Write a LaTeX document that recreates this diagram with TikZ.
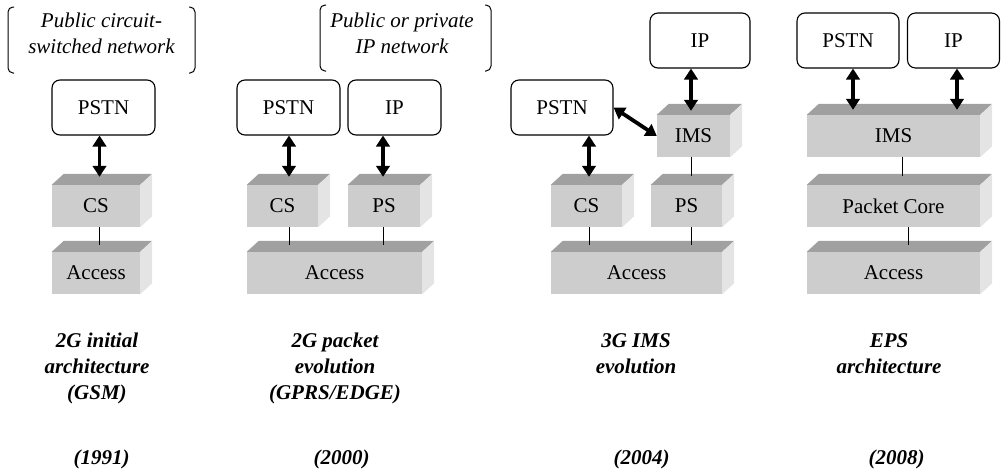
\documentclass[tikz,border=0pt]{standalone}
\usepackage{fontspec}
\setmainfont{Liberation Serif}
\usetikzlibrary{arrows.meta,calc}
\definecolor{topc}{HTML}{A0A0A0}
\definecolor{frontc}{HTML}{CDCDCD}
\definecolor{sidec}{HTML}{E4E4E4}
\tikzset{
  net/.style={draw=black, line width=1.1pt, rounded corners=8pt, fill=white, inner sep=0pt, minimum height=55pt, font=\fontsize{21}{26}\selectfont},
  blk/.style={fill=frontc, inner sep=0pt, minimum height=42pt, font=\fontsize{21}{26}\selectfont},
  dbl/.style={line width=3.8pt, {Triangle[length=11pt,width=13.5pt]}-{Triangle[length=11pt,width=13.5pt]}},
  link/.style={line width=1pt},
  brk/.style={line width=1pt, rounded corners=5pt},
  lbl/.style={font=\fontsize{21}{26}\selectfont\bfseries\itshape, align=center, anchor=base, inner sep=0pt},
  cloud/.style={font=\fontsize{21}{26}\selectfont\itshape, align=center, anchor=base, inner sep=0pt},
}
\newcommand\Blk[5]{% name, cx, cy, width, text
  \node[blk, minimum width=#4pt] (#1) at (#2,#3) {#5};
  \fill[topc] (#1.north west) -- ++(12,-11) -- ($(#1.north east)+(12,-11)$) -- (#1.north east) -- cycle;
  \fill[sidec] (#1.north east) -- ++(12,-11) -- ($(#1.south east)+(12,-11)$) -- (#1.south east) -- cycle;
}
\begin{document}
\begin{tikzpicture}[x=1pt,y=-1pt]
\useasboundingbox (0,0) rectangle (1001,474);
% ---------- column 1 ----------
\draw[brk] (14,7) -- (8,7) -- (8,73) -- (14,73);
\draw[brk] (189,7) -- (195,7) -- (195,73) -- (189,73);
\node[cloud] (t1) at (101.5,53) {Public circuit-\\switched network};
\node[net, minimum width=103pt] (pstn1) at (103.5,107.5) {PSTN};
\Blk{cs1}{96}{206}{88}{CS}
\Blk{acc1}{96}{273}{88}{Access}
\draw[dbl, shorten >=8pt] ([xshift=-4pt]pstn1.south) -- ([xshift=-4pt]pstn1.south |- cs1.north);
\draw[link] ([xshift=3pt]cs1.south) -- ([xshift=3pt,yshift=7pt]acc1.north);
\node[lbl] (l1) at (97,399) {2G initial\\architecture\\(GSM)};
\node[lbl] (y1) at (101.5,464) {(1991)};
% ---------- column 2 ----------
\draw[brk] (326,5) -- (320,5) -- (320,71) -- (326,71);
\draw[brk] (485,5) -- (491,5) -- (491,71) -- (485,71);
\node[cloud] (t2) at (402,53) {Public or private\\IP network};
\node[net, minimum width=103pt] (pstn2) at (288.5,107.5) {PSTN};
\node[net, minimum width=93pt] (ip2) at (394.5,107.5) {IP};
\Blk{cs2}{282.5}{206}{71}{CS}
\Blk{ps2}{384}{206}{72}{PS}
\Blk{acc2}{334.5}{273}{175}{Access}
\draw[dbl, shorten >=8pt] ([xshift=0.5pt]pstn2.south) -- ([xshift=0.5pt]pstn2.south |- cs2.north);
\draw[dbl, shorten >=8pt] ([xshift=-11.5pt]ip2.south) -- ([xshift=-11.5pt]ip2.south |- ps2.north);
\draw[link] ([xshift=6.5pt]cs2.south) -- ([xshift=6.5pt,yshift=7pt]cs2.south |- acc2.north);
\draw[link] ([xshift=-1pt]ps2.south) -- ([xshift=-1pt,yshift=7pt]ps2.south |- acc2.north);
\node[lbl] (l2) at (335,399) {2G packet\\evolution\\(GPRS/EDGE)};
\node[lbl] (y2) at (341.5,464) {(2000)};
% ---------- column 3 ----------
\node[net, minimum width=100pt] (ip3) at (700,40.5) {IP};
\node[net, minimum width=102pt] (pstn3) at (562,107.5) {PSTN};
\Blk{ims3}{693.5}{136}{73}{IMS}
\Blk{cs3}{586.5}{206}{71}{CS}
\Blk{ps3}{686.5}{206}{71}{PS}
\Blk{acc3}{636.5}{273}{171}{Access}
\draw[dbl, shorten >=4pt] ([xshift=-9pt]ip3.south) -- ([xshift=-9pt]ip3.south |- ims3.north);
\draw[dbl] (pstn3.east) -- (ims3.west);
\draw[dbl, shorten >=8pt] ([xshift=27pt]pstn3.south) -- ([xshift=27pt]pstn3.south |- cs3.north);
\draw[link] ([xshift=-2.5pt]ims3.south) -- ([xshift=-2.5pt,yshift=9pt]ims3.south |- ps3.north);
\draw[link] ([xshift=2.5pt]cs3.south) -- ([xshift=2.5pt,yshift=7pt]cs3.south |- acc3.north);
\draw[link] ([xshift=4.5pt]ps3.south) -- ([xshift=4.5pt,yshift=7pt]ps3.south |- acc3.north);
\node[lbl] (l3) at (636,373) {3G IMS\\evolution};
\node[lbl] (y3) at (641.5,464) {(2004)};
% ---------- column 4 ----------
\node[net, minimum width=102pt] (pstn4) at (848,40.5) {PSTN};
\node[net, minimum width=92pt] (ip4) at (953.5,40.5) {IP};
\Blk{ims4}{893.5}{136}{173}{IMS}
\Blk{pc4}{893.5}{206}{173}{Packet Core}
\Blk{acc4}{893.5}{273}{173}{Access}
\draw[dbl, shorten >=5pt] ([xshift=5pt]pstn4.south) -- ([xshift=5pt]pstn4.south |- ims4.north);
\draw[dbl, shorten >=5pt] ([xshift=3.5pt]ip4.south) -- ([xshift=3.5pt]ip4.south |- ims4.north);
\draw[link] ([xshift=8.5pt]ims4.south) -- ([xshift=8.5pt,yshift=9pt]ims4.south |- pc4.north);
\draw[link] ([xshift=14.5pt]pc4.south) -- ([xshift=14.5pt,yshift=7pt]pc4.south |- acc4.north);
\node[lbl] (l4) at (889,373) {EPS\\architecture};
\node[lbl] (y4) at (896.5,464) {(2008)};
\end{tikzpicture}
\end{document}
